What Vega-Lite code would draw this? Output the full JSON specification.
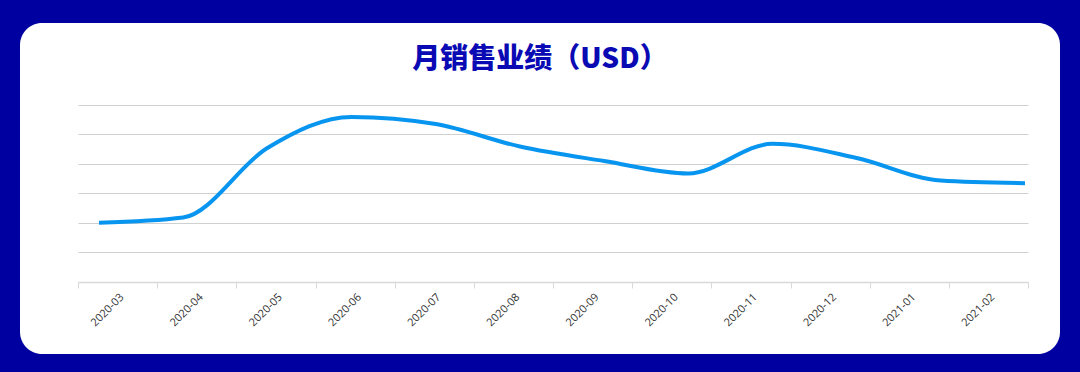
{
  "$schema": "https://vega.github.io/schema/vega-lite/v6.json",
  "width": 1040,
  "height": 331,
  "autosize": "none",
  "padding": {"left": 20, "top": 23, "right": 20, "bottom": 18},
  "background": "#0000a0",
  "title": {
    "text": "月销售业绩（USD）",
    "font": "Noto Sans CJK SC",
    "fontSize": 28,
    "fontWeight": 900,
    "color": "#0a0ab4",
    "anchor": "middle",
    "baseline": "alphabetic",
    "offset": -73
  },
  "data": {
    "values": [
      {"month": "2020-03", "sales": 20.0},
      {"month": "2020-04", "sales": 21.8},
      {"month": "2020-05", "sales": 45.3},
      {"month": "2020-06", "sales": 55.8},
      {"month": "2020-07", "sales": 53.4},
      {"month": "2020-08", "sales": 45.8},
      {"month": "2020-09", "sales": 40.9},
      {"month": "2020-10", "sales": 36.7},
      {"month": "2020-11", "sales": 46.7},
      {"month": "2020-12", "sales": 41.9},
      {"month": "2021-01", "sales": 34.3},
      {"month": "2021-02", "sales": 33.4}
    ]
  },
  "layer": [
    {
      "mark": {"type": "point", "opacity": 0},
      "encoding": {
        "x": {
          "field": "month",
          "type": "ordinal",
          "scale": {"type": "band", "range": [58, 1008], "paddingInner": 0, "paddingOuter": 0},
          "axis": {
            "title": null,
            "orient": "bottom",
            "offset": -72,
            "labelAngle": -45,
            "labelFont": "Open Sans",
            "labelFontSize": 11,
            "labelColor": "#333333",
            "labelPadding": 3,
            "tickBand": "extent",
            "ticks": true,
            "tickSize": 6,
            "tickColor": "#d9d9d9",
            "tickWidth": 1,
            "domainColor": "#d9d9d9",
            "domainWidth": 1.5,
            "grid": false
          }
        },
        "y": {
          "field": "sales",
          "type": "quantitative",
          "scale": {"domain": [0, 60], "range": [259, 81.5], "nice": false, "zero": true},
          "axis": {
            "title": null,
            "labels": false,
            "ticks": false,
            "domain": false,
            "grid": true,
            "gridColor": "#d0d0d0",
            "gridWidth": 1,
            "values": [10, 20, 30, 40, 50, 60]
          }
        }
      }
    },
    {
      "mark": {"type": "line", "color": "#0895ef", "strokeWidth": 4, "interpolate": "monotone", "strokeCap": "butt"},
      "encoding": {
        "x": {
          "field": "month",
          "type": "ordinal",
          "scale": {"type": "point", "range": [79, 1005], "padding": 0},
          "axis": null
        },
        "y": {"field": "sales", "type": "quantitative"}
      }
    }
  ],
  "resolve": {"scale": {"x": "independent"}, "axis": {"x": "independent"}},
  "config": {
    "view": {"fill": "white", "cornerRadius": 22, "stroke": null}
  }
}
